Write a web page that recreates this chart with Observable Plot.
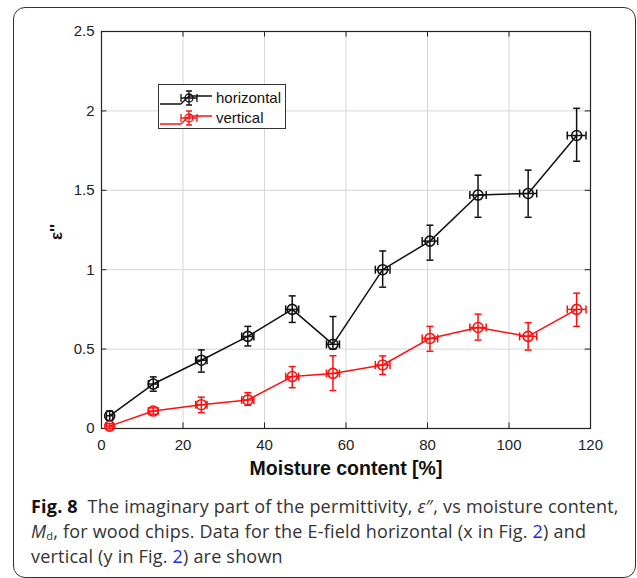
<!DOCTYPE html>
<html>
<head>
<meta charset="utf-8">
<script src="https://cdn.jsdelivr.net/npm/d3@7"></script>
<script src="https://cdn.jsdelivr.net/npm/@observablehq/plot@0.6"></script>
<style>
  html, body { margin: 0; padding: 0; background: #fff; }
  #wrap { position: relative; width: 637px; height: 578px; background: #fff; overflow: hidden; }
  #border { position: absolute; left: 13px; top: 7px; width: 623px; height: 571px; box-sizing: border-box;
            border: 1px solid #333; border-radius: 12px; }
  #chart { position: absolute; left: 0; top: 0; }
  #legend { position: absolute; left: 158px; top: 84px; width: 128px; height: 45px; box-sizing: border-box;
            border: 1px solid #333; background: #fff; font-family: "Liberation Sans", Arial, sans-serif; font-size: 15px; }
  .lg-row { position: absolute; left: 0; height: 20px; width: 126px; }
  .lg-row svg { position: absolute; left: 0; top: 0; }
  .lg-row span { position: absolute; left: 57px; top: 1px; color: #111; }
  #ylabel { position: absolute; left: 57px; top: 232px; transform: translate(-50%, -50%) rotate(-90deg);
            font-family: "Liberation Sans", Arial, sans-serif; font-weight: bold; font-size: 17px; color: #111; white-space: nowrap; }
  #xlabel { position: absolute; left: 346px; top: 468px; transform: translate(-50%, -50%);
            font-family: "Liberation Sans", Arial, sans-serif; font-weight: bold; font-size: 19.5px; color: #111; white-space: nowrap; }
  #caption { position: absolute; left: 31px; top: 494px; font-family: "Open Sans", sans-serif; font-size: 18px;
             line-height: 25px; color: #333; white-space: nowrap; letter-spacing: 0.2px; }
  #caption b { color: #111; }
  #caption .ref { color: #2a2ae0; }
  #caption sub { font-size: 11px; line-height: 0; vertical-align: -2px; }
</style>
</head>
<body>
<div id="wrap">
  <div id="border"></div>
  <div id="chart"></div>
  <div id="legend"></div>
  <div id="ylabel"></div>
  <div id="xlabel"></div>
  <div id="caption"></div>
</div>
<script>
// ---- data ----
const moisture    = [2.0, 12.7, 24.5, 35.9, 46.8, 56.8, 69.0, 80.6, 92.4, 104.7, 116.6];
const moistureErr = [0.8, 1.2, 1.4, 1.5, 1.6, 1.6, 1.8, 1.9, 2.0, 2.1, 2.3];
const horizontal   = [0.08, 0.28, 0.43, 0.58, 0.75, 0.53, 1.00, 1.18, 1.47, 1.48, 1.845];
const horizontalLo = [0.05, 0.235, 0.355, 0.52, 0.668, 0.50, 0.89, 1.06, 1.33, 1.33, 1.683];
const horizontalHi = [0.11, 0.325, 0.495, 0.643, 0.835, 0.705, 1.118, 1.28, 1.595, 1.627, 2.016];
const vertical   = [0.015, 0.11, 0.15, 0.18, 0.327, 0.347, 0.40, 0.567, 0.636, 0.58, 0.75];
const verticalLo = [0.0, 0.09, 0.10, 0.146, 0.257, 0.239, 0.34, 0.486, 0.557, 0.494, 0.643];
const verticalHi = [0.03, 0.13, 0.197, 0.226, 0.39, 0.458, 0.457, 0.643, 0.72, 0.666, 0.852];
const seriesNames  = ["horizontal", "vertical"];
const seriesColors = ["#111111", "#ff1010"];
const xTicks = [0, 20, 40, 60, 80, 100, 120];
const yTicks = [0, 0.5, 1, 1.5, 2, 2.5];
const xLabel = "Moisture content [%]";
const yLabel = "ε''";

// ---- build table ----
const rows = [];
seriesNames.forEach((s, si) => {
  const v = si === 0 ? horizontal : vertical;
  const lo = si === 0 ? horizontalLo : verticalLo;
  const hi = si === 0 ? horizontalHi : verticalHi;
  moisture.forEach((m, i) => rows.push({
    series: s, color: seriesColors[si], x: m, xlo: m - moistureErr[i], xhi: m + moistureErr[i],
    y: v[i], ylo: lo[i], yhi: hi[i]
  }));
});

// custom cap symbols (length derived from r)
const hCap = { draw(ctx, size) { const r = Math.sqrt(size / Math.PI); ctx.moveTo(-r, 0); ctx.lineTo(r, 0); } };
const vCap = { draw(ctx, size) { const r = Math.sqrt(size / Math.PI); ctx.moveTo(0, -r); ctx.lineTo(0, r); } };

const xDom = [xTicks[0], xTicks[xTicks.length - 1]];
const yDom = [yTicks[0], yTicks[yTicks.length - 1]];
const tickLenX = (xDom[1] - xDom[0]) * 0.011;
const tickLenY = (yDom[1] - yDom[0]) * 0.014;

const marks = [
  Plot.gridX(xTicks, { stroke: "#d6d6d6", strokeOpacity: 1 }),
  Plot.gridY(yTicks, { stroke: "#d6d6d6", strokeOpacity: 1 }),
  // inward ticks
  Plot.ruleX(xTicks, { x: d => d, y1: yDom[0], y2: yDom[0] + tickLenY, stroke: "#222" }),
  Plot.ruleX(xTicks, { x: d => d, y1: yDom[1], y2: yDom[1] - tickLenY, stroke: "#222" }),
  Plot.ruleY(yTicks, { y: d => d, x1: xDom[0], x2: xDom[0] + tickLenX, stroke: "#222" }),
  Plot.ruleY(yTicks, { y: d => d, x1: xDom[1], x2: xDom[1] - tickLenX, stroke: "#222" }),
  Plot.axisX(xTicks, { tickSize: 0, tickPadding: 11, label: null, fontSize: 15, fill: "#222" }),
  Plot.axisY(yTicks, { tickSize: 0, tickPadding: 7, label: null, fontSize: 15, fill: "#222", tickFormat: d => String(d) }),
  Plot.frame({ stroke: "#222", strokeWidth: 1.2 }),
];
seriesNames.forEach((s, si) => {
  const d = rows.filter(r => r.series === s);
  const c = seriesColors[si];
  marks.push(
    Plot.line(d, { x: "x", y: "y", stroke: c, strokeWidth: 1.5 }),
    Plot.ruleX(d, { x: "x", y1: "ylo", y2: "yhi", stroke: c, strokeWidth: 1.5 }),
    Plot.ruleY(d, { y: "y", x1: "xlo", x2: "xhi", stroke: c, strokeWidth: 1.5 }),
    Plot.dot(d, { x: "x", y: "yhi", symbol: hCap, r: 3.5, stroke: c, fill: "none", strokeWidth: 1.5 }),
    Plot.dot(d, { x: "x", y: "ylo", symbol: hCap, r: 3.5, stroke: c, fill: "none", strokeWidth: 1.5 }),
    Plot.dot(d, { x: "xlo", y: "y", symbol: vCap, r: 4, stroke: c, fill: "none", strokeWidth: 1.5 }),
    Plot.dot(d, { x: "xhi", y: "y", symbol: vCap, r: 4, stroke: c, fill: "none", strokeWidth: 1.5 }),
    Plot.dot(d, { x: "x", y: "y", symbol: "circle", r: 5, stroke: c, fill: "none", strokeWidth: 1.6 })
  );
});

const chart = Plot.plot({
  width: 637, height: 480,
  marginLeft: 101, marginRight: 47, marginTop: 31, marginBottom: 52,
  x: { domain: xDom, ticks: xTicks },
  y: { domain: yDom, ticks: yTicks },
  style: { fontFamily: "Liberation Sans, Arial, sans-serif", fontSize: "15px", background: "transparent", overflow: "visible" },
  marks
});
document.getElementById("chart").appendChild(chart);
document.getElementById("ylabel").textContent = yLabel;
document.getElementById("xlabel").textContent = xLabel;

// ---- legend ----
const legend = d3.select("#legend");
seriesNames.forEach((s, si) => {
  const c = seriesColors[si];
  const row = legend.append("div").attr("class", "lg-row").style("top", (3 + si * 20) + "px");
  const g = row.append("svg").attr("width", 56).attr("height", 20)
    .append("g").attr("stroke", c).attr("stroke-width", 1.3).attr("fill", "none");
  g.append("path").attr("d", "M1,16H22M22,16L30,8H53");
  g.append("path").attr("d", "M22,10H38M22,6V14M38,6V14M30,3V17M27,3H33M27,17H33");
  g.append("circle").attr("cx", 30).attr("cy", 10).attr("r", 4);
  row.append("span").text(s);
});

// ---- caption ----
document.getElementById("caption").innerHTML =
  '<b>Fig. 8</b>&nbsp; The imaginary part of the permittivity, <i>ε</i>″, vs moisture content,<br>' +
  '<i>M</i><sub>d</sub>, for wood chips. Data for the E-field horizontal (x in Fig. <span class="ref">2</span>) and<br>' +
  'vertical (y in Fig. <span class="ref">2</span>) are shown';
</script>
</body>
</html>
